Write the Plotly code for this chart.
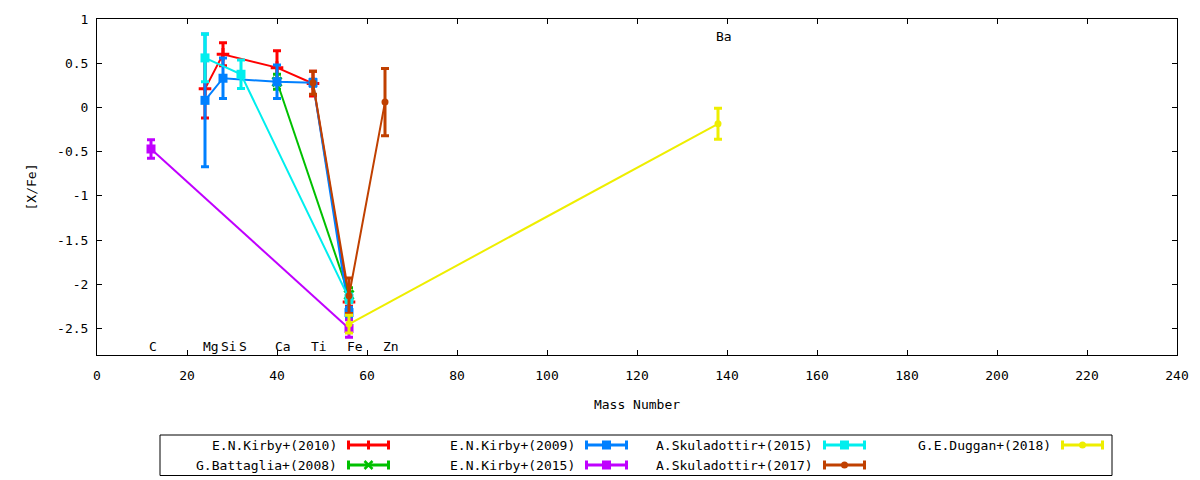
import plotly.graph_objects as go

# ---------------- data ----------------
elements = ["C", "Mg", "Si", "S", "Ca", "Ti", "Fe", "Zn", "Ba"]
mass = {"C": 12, "Mg": 24, "Si": 28, "S": 32, "Ca": 40, "Ti": 48, "Fe": 56, "Zn": 64, "Ba": 138}

series_names = [
    "E.N.Kirby+(2010)", "G.Battaglia+(2008)", "E.N.Kirby+(2009)", "E.N.Kirby+(2015)",
    "A.Skuladottir+(2015)", "A.Skuladottir+(2017)", "G.E.Duggan+(2018)",
]

kirby2010_el = ["Mg", "Si", "Ca", "Ti", "Fe"]
kirby2010_val = [0.21, 0.60, 0.45, 0.27, -2.20]
kirby2010_err = [0.33, 0.13, 0.19, 0.14, 0.05]

battaglia2008_el = ["Ca", "Fe"]
battaglia2008_val = [0.29, -2.12]
battaglia2008_err = [0.085, 0.08]

kirby2009_el = ["Mg", "Si", "Ca", "Ti", "Fe"]
kirby2009_val = [0.08, 0.33, 0.29, 0.28, -2.32]
kirby2009_err = [0.75, 0.23, 0.19, 0.04, 0.06]

kirby2015_el = ["C", "Fe"]
kirby2015_val = [-0.47, -2.50]
kirby2015_err = [0.105, 0.10]

skul2015_el = ["Mg", "S", "Fe"]
skul2015_val = [0.56, 0.375, -2.16]
skul2015_err = [0.27, 0.16, 0.05]

skul2017_el = ["Ti", "Fe", "Zn"]
skul2017_val = [0.28, -2.13, 0.06]
skul2017_err = [0.13, 0.20, 0.38]

duggan2018_el = ["Fe", "Ba"]
duggan2018_val = [-2.45, -0.185]
duggan2018_err = [0.10, 0.175]

bottom_labels = ["C", "Mg", "Si", "S", "Ca", "Ti", "Fe", "Zn"]
top_labels = ["Ba"]

y_ticks = [1, 0.5, 0, -0.5, -1, -1.5, -2, -2.5]
x_ticks = [0, 20, 40, 60, 80, 100, 120, 140, 160, 180, 200, 220, 240]

# ---------------- style ----------------
FONT = "DejaVu Sans Mono"
FS = 13
colors = ["#ff0000", "#00c000", "#0080ff", "#c000ff", "#00eeee", "#c04000", "#eeee00"]
symbols = ["cross-thin", "x-thin", "square", "square", "square", "circle", "circle"]

OFF = 8                      # default page body margin
W, H = 1200 - OFF, 480 - OFF
ML, MR, MT, MB = 97 - OFF, 23, 19 - OFF, 125
PW, PH = W - ML - MR, H - MT - MB


def px(x):  # page pixel -> paper
    return (x - OFF - ML) / PW


def py(y):
    return (H - MB - (y - OFF)) / PH


datasets = [
    (kirby2010_el, kirby2010_val, kirby2010_err),
    (battaglia2008_el, battaglia2008_val, battaglia2008_err),
    (kirby2009_el, kirby2009_val, kirby2009_err),
    (kirby2015_el, kirby2015_val, kirby2015_err),
    (skul2015_el, skul2015_val, skul2015_err),
    (skul2017_el, skul2017_val, skul2017_err),
    (duggan2018_el, duggan2018_val, duggan2018_err),
]

fig = go.Figure()
for i, (els, vals, errs) in enumerate(datasets):
    sym = symbols[i]
    thin = sym.endswith("-thin")
    fig.add_trace(go.Scatter(
        x=[mass[e] for e in els], y=vals, name=series_names[i],
        mode="lines+markers",
        line=dict(color=colors[i], width=2),
        marker=dict(symbol=sym, size=9 if sym != "circle" else 7,
                    color=colors[i],
                    line=dict(color=colors[i], width=3 if thin else 0)),
        error_y=dict(type="data", array=errs, visible=True, color=colors[i],
                     thickness=3, width=4),
        showlegend=False,
    ))

annotations = []
for e in bottom_labels:
    annotations.append(dict(x=mass[e] - 0.9, y=-2.7, xref="x", yref="y", text=e,
                            showarrow=False, xanchor="left", yanchor="middle",
                            font=dict(family=FONT, size=FS, color="black")))
for e in top_labels:
    annotations.append(dict(x=mass[e] - 0.9, y=0.8, xref="x", yref="y", text=e,
                            showarrow=False, xanchor="left", yanchor="middle",
                            font=dict(family=FONT, size=FS, color="black")))

# ---------------- custom legend (gnuplot-style) ----------------
shapes = []
shapes.append(dict(type="rect", xref="paper", yref="paper",
                   x0=px(160), x1=px(1112), y0=py(475.5), y1=py(435),
                   line=dict(color="black", width=1), fillcolor="rgba(0,0,0,0)"))
text_end = [339, 577, 815, 1053]
sample_start = [347, 585, 823, 1061]
row_y = [445, 465]
SL = 43
for i, name in enumerate(series_names):
    c, r = divmod(i, 2)
    yy = row_y[r]
    s0 = sample_start[c]
    col = colors[i]
    annotations.append(dict(x=px(text_end[c]), y=py(yy), xref="paper", yref="paper",
                            text=name, showarrow=False, xanchor="right", yanchor="middle",
                            font=dict(family=FONT, size=FS, color="black")))
    shapes.append(dict(type="line", xref="paper", yref="paper",
                       x0=px(s0), x1=px(s0 + SL), y0=py(yy), y1=py(yy),
                       line=dict(color=col, width=3)))
    for xc in (s0 + 1.5, s0 + SL - 1.5):
        shapes.append(dict(type="line", xref="paper", yref="paper",
                           x0=px(xc), x1=px(xc), y0=py(yy - 4.5), y1=py(yy + 4.5),
                           line=dict(color=col, width=3)))
    mx = s0 + SL / 2
    sym = symbols[i]
    if sym == "square":
        shapes.append(dict(type="rect", xref="paper", yref="paper",
                           x0=px(mx - 4.5), x1=px(mx + 4.5), y0=py(yy + 4.5), y1=py(yy - 4.5),
                           line=dict(width=0), fillcolor=col))
    elif sym == "circle":
        shapes.append(dict(type="circle", xref="paper", yref="paper",
                           x0=px(mx - 3.5), x1=px(mx + 3.5), y0=py(yy + 3.5), y1=py(yy - 3.5),
                           line=dict(width=0), fillcolor=col))
    elif sym == "cross-thin":
        shapes.append(dict(type="line", xref="paper", yref="paper",
                           x0=px(mx), x1=px(mx), y0=py(yy - 4.5), y1=py(yy + 4.5),
                           line=dict(color=col, width=3)))
    else:
        for d in (1, -1):
            shapes.append(dict(type="line", xref="paper", yref="paper",
                               x0=px(mx - 4), x1=px(mx + 4), y0=py(yy - 4 * d), y1=py(yy + 4 * d),
                               line=dict(color=col, width=2.5)))

fig.update_layout(
    width=W, height=H, autosize=False,
    margin=dict(l=ML, r=MR, t=MT, b=MB, pad=0, autoexpand=False),
    paper_bgcolor="white", plot_bgcolor="white",
    font=dict(family=FONT, size=FS, color="black"),
    showlegend=False,
    annotations=annotations,
    shapes=shapes,
    xaxis=dict(range=[0, 240], tickvals=x_ticks, ticktext=[str(v) for v in x_ticks],
               ticks="inside", ticklen=5, tickcolor="black",
               showline=True, linecolor="black", linewidth=1, mirror="ticks",
               showgrid=False, zeroline=False, ticklabelstandoff=8, automargin=False,
               title=dict(text="Mass Number", standoff=18,
                          font=dict(family=FONT, size=FS, color="black"))),
    yaxis=dict(range=[-2.8, 1], tickvals=y_ticks, ticktext=[f"{v:g}" for v in y_ticks],
               ticks="inside", ticklen=5, tickcolor="black",
               showline=True, linecolor="black", linewidth=1, mirror="ticks",
               showgrid=False, zeroline=False, ticklabelstandoff=5, automargin=False,
               title=dict(text="[X/Fe]", standoff=17,
                          font=dict(family=FONT, size=FS, color="black"))),
)

fig.write_html("out.html")
